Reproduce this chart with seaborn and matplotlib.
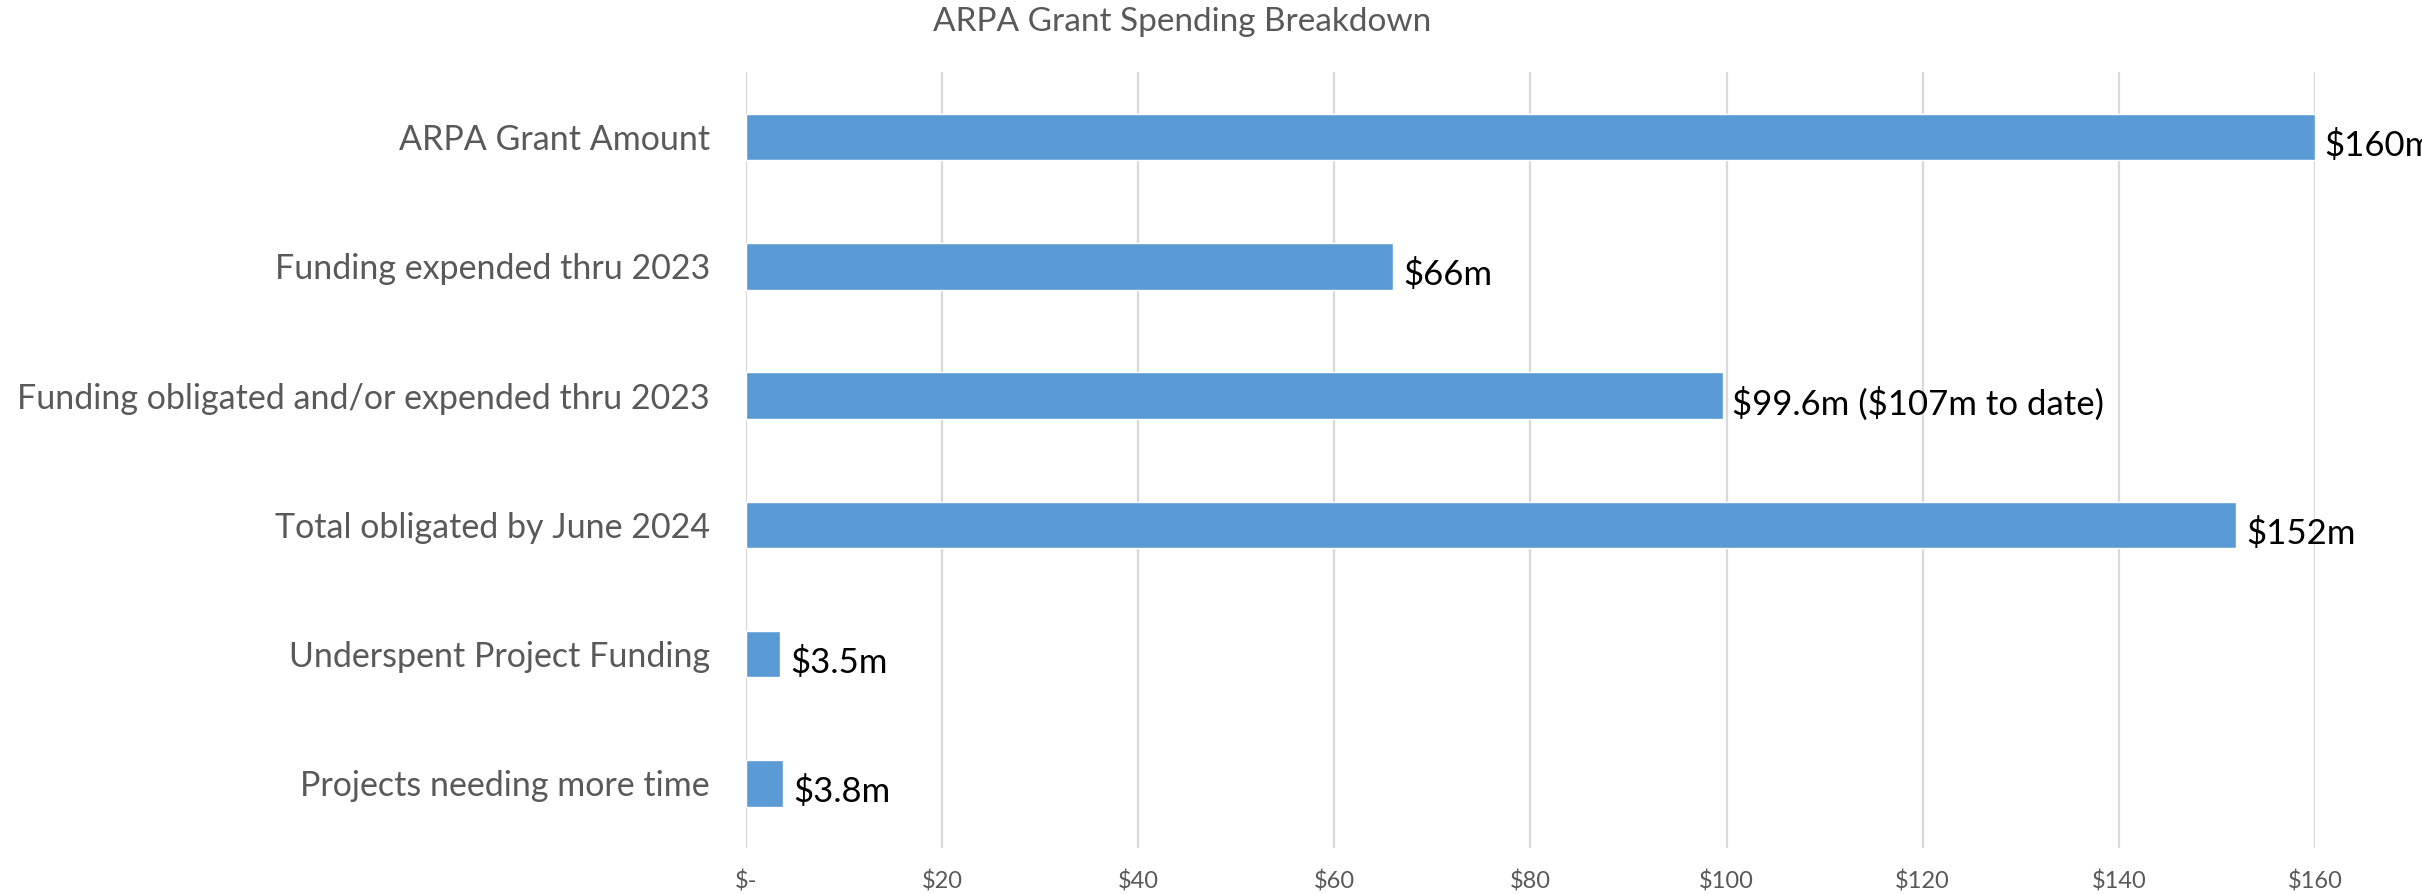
import pandas as pd
import seaborn as sns
import matplotlib.pyplot as plt
from matplotlib.ticker import FuncFormatter, MultipleLocator

sns.set_style('white')
plt.rcParams['font.family'] = ['Lato', 'DejaVu Sans']

categories = ['ARPA Grant Amount',
              'Funding expended thru 2023',
              'Funding obligated and/or expended thru 2023',
              'Total obligated by June 2024',
              'Underspent Project Funding',
              'Projects needing more time']
amounts = [160, 66, 99.6, 152, 3.5, 3.8]
bar_labels = ['$160m', '$66m', '$99.6m ($107m to date)', '$152m', '$3.5m', '$3.8m']

df = pd.DataFrame({'category': categories, 'amount': amounts})

fig = plt.figure(figsize=(24.22, 8.94), dpi=100)
ax = fig.add_axes([0.308, 0.0515, 0.6478, 0.8675])

sns.barplot(data=df, y='category', x='amount', orient='h', color='#5B9BD5',
            saturation=1, width=0.36, ax=ax)

# escape the dollar signs so mathtext leaves them alone
labs = ax.bar_label(ax.containers[0], labels=[s.replace('$', r'\$') for s in bar_labels],
                    padding=7, fontsize=25, color='black')
for t in labs:
    t.set_va('center')
    t.xyann = (t.xyann[0], -6)

ax.set_xlim(0, 160)
ax.xaxis.set_major_locator(MultipleLocator(20))
ax.xaxis.set_major_formatter(FuncFormatter(lambda v, p: r'\$-' if v == 0 else r'\${:.0f}'.format(v)))
ax.grid(axis='x', color='#D9D9D9', linewidth=1.6)
ax.set_axisbelow(True)
sns.despine(ax=ax, left=True, bottom=True)

ax.set_xlabel('')
ax.set_ylabel('')
ax.tick_params(axis='x', length=0, pad=16, labelsize=17, labelcolor='#595959')
ax.tick_params(axis='y', length=0, pad=26, labelsize=24.5, labelcolor='#595959')

fig.text(0.488, 0.975, 'ARPA Grant Spending Breakdown', ha='center', va='center',
         fontsize=24, color='#595959')

fig.savefig('out.png', dpi=100)
